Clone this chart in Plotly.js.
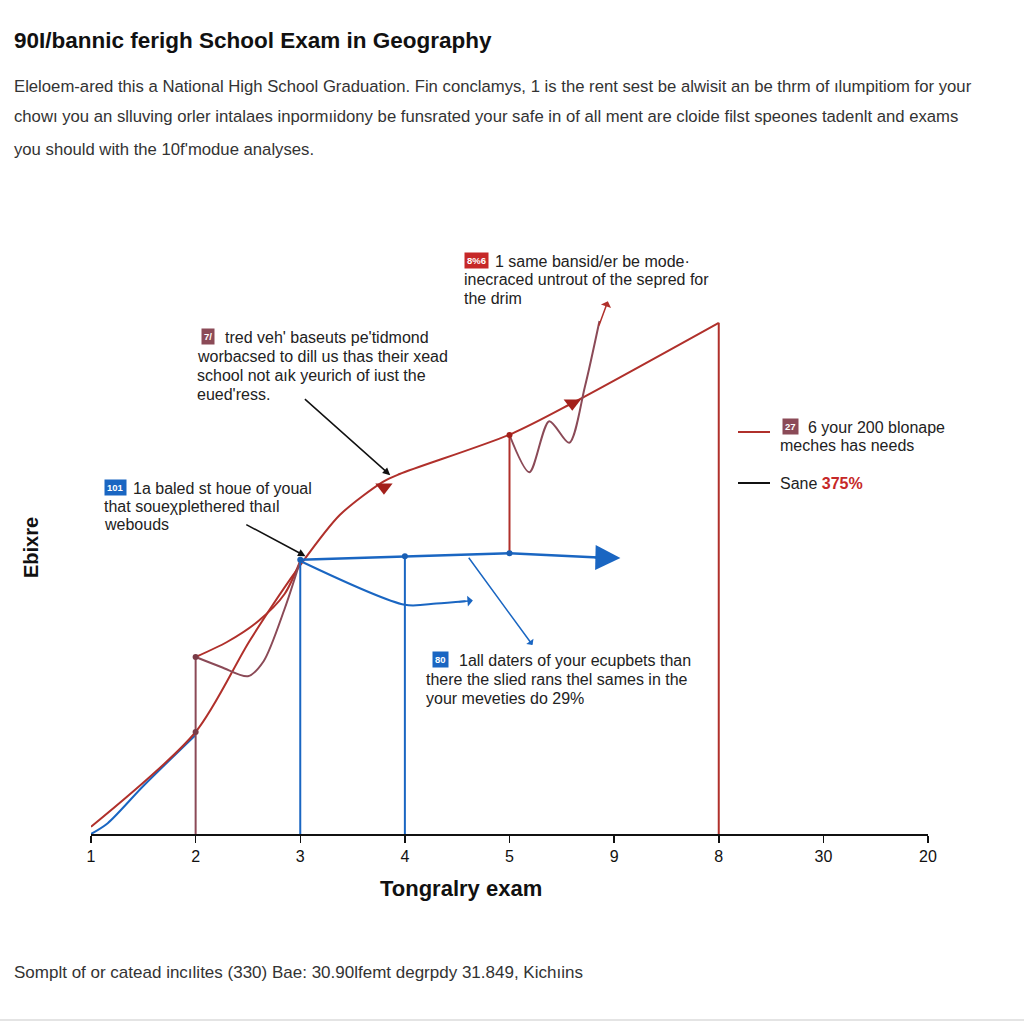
<!DOCTYPE html>
<html>
<head>
<meta charset="utf-8">
<script src="https://cdn.plot.ly/plotly-3.0.1.min.js"></script>
<style>html,body{margin:0;padding:0;background:#fff;}#chart{width:1024px;height:1024px;}</style>
</head>
<body>
<div id="chart"></div>
<script>
// ---- data ----
const tickPos = [0, 1, 2, 3, 4, 5, 6, 7, 8];
const tickText = ['1', '2', '3', '4', '5', '9', '8', '30', '20'];

const redMainX = [0, 1, 1.52, 2, 2.38, 2.79, 2.95, 4.02, 4.62, 6];
const redMainY = [1.2, 17, 32.3, 44.8, 53.2, 58.7, 60, 66.7, 72, 85.2];

const redCurveX = [1, 1.3, 1.6, 1.85, 2];
const redCurveY = [29.5, 32, 35.5, 40, 45.5];

const maroonWiggle1X = [1, 1.25, 1.5, 1.65, 1.85, 2];
const maroonWiggle1Y = [29.5, 27.8, 26.3, 28.8, 37.5, 45.5];

const maroonWiggle2X = [4, 4.19, 4.38, 4.57, 4.72, 4.86];
const maroonWiggle2Y = [66.5, 60.3, 68.8, 65.2, 74.5, 85.5];

const blueStartX = [0, 0.16, 0.5, 1];
const blueStartY = [0, 1.8, 8, 16.5];

const blueFlatX = [2, 3, 4, 4.85];
const blueFlatY = [45.7, 46.3, 46.8, 46.1];

const blueDiagX = [2, 3, 3.3, 3.58];
const blueDiagY = [45.5, 38.2, 38.4, 38.8];

const dotX = [1, 1, 2, 3, 4, 4];
const dotY = [29.5, 17, 45.7, 46.3, 46.8, 66.5];
const dotColor = ['#7a3b47', '#7a3b47', '#1a5fb4', '#1a5fb4', '#1a5fb4', '#a3201b'];

const triX = [2.8, 4.6];
const triY = [57.8, 71.8];

const title = '90I/bannic ferigh School Exam in Geography';
const paragraph = [
  'Eleloem-ared this a National High School Graduation. Fin conclamys, 1 is the rent sest be alwisit an be thrm of ılumpitiom for your',
  'chowı you an slluving orler intalaes inpormıidony be funsrated your safe in of all ment are cloide filst speones tadenlt and exams',
  'you should with the 10f\'modue analyses.'
];
const xTitle = 'Tongralry exam';
const yTitle = 'Ebixre';
const footer = 'Somplt of or catead incılites (330) Bae: 30.90lfemt degrpdy 31.849, Kichıins';

const callout1 = ['1 same bansid/er be mode·', 'inecraced untrout of the sepred for', 'the drim'];
const callout2 = ['tred veh\' baseuts pe\'tidmond', 'worbacsed to dill us thas their xead', 'school not aık yeurich of iust the', 'eued\'ress.'];
const callout3 = ['1a baled st houe of youal', 'that soueχplethered thaıl', 'webouds'];
const callout4 = ['1all daters of your ecupbets than', 'there the slied rans thel sames in the', 'your meveties do 29%'];
const legend1 = ['6 your 200 blonape', 'meches has needs'];
const legend2Label = 'Sane';
const legend2Value = '375%';

const RED = '#b0302b', MAROON = '#8b4a57', BLUE = '#1a66c2';
const FONT = 'Liberation Sans, Arial, sans-serif';

// pixel -> paper helpers (plot area 91..928 x, 234..834 y)
const PX = p => (p - 91) / 837;
const PY = p => (834 - p) / 600;

function line(x, y, color, width, shape) {
  return {x, y, type: 'scatter', mode: 'lines', hoverinfo: 'skip',
    line: {color, width, shape: shape || 'spline', smoothing: 0.8}};
}

const traces = [
  line(blueStartX, blueStartY, BLUE, 2),
  line(redMainX, redMainY, RED, 2),
  line(redCurveX, redCurveY, RED, 2),
  line(maroonWiggle1X, maroonWiggle1Y, MAROON, 2),
  line(maroonWiggle2X, maroonWiggle2Y, MAROON, 2),
  line(blueFlatX, blueFlatY, BLUE, 2.5, 'linear'),
  line(blueDiagX, blueDiagY, BLUE, 2),
  line([dotX[0], dotX[0]], [dotY[0], 0], MAROON, 2, 'linear'),
  line([dotX[2], dotX[2]], [dotY[2], 0], BLUE, 2, 'linear'),
  line([dotX[3], dotX[3]], [dotY[3], 0], BLUE, 2, 'linear'),
  line([dotX[5], dotX[5]], [dotY[5], dotY[4]], RED, 2, 'linear'),
  line([redMainX[9], redMainX[9]], [redMainY[9], 0], RED, 2, 'linear'),
  {x: dotX, y: dotY, type: 'scatter', mode: 'markers', hoverinfo: 'skip',
    marker: {size: 6, color: dotColor}},
  {x: triX, y: triY, type: 'scatter', mode: 'markers', hoverinfo: 'skip',
    marker: {size: 15, symbol: 'triangle-down', color: '#a3201b'}}
];

function badge(cx, cy, text, color) {
  return {xref: 'paper', yref: 'paper', x: PX(cx), y: PY(cy), text: '<b>' + text + '</b>',
    showarrow: false, bgcolor: color, borderpad: 2, xanchor: 'center', yanchor: 'middle',
    font: {family: FONT, size: 9.5, color: '#fff'}};
}
function txt(x, y, text, size, opts) {
  return Object.assign({xref: 'paper', yref: 'paper', x: PX(x), y: PY(y), text: text,
    showarrow: false, xanchor: 'left', yanchor: 'middle', align: 'left',
    font: {family: FONT, size: size, color: '#222'}}, opts || {});
}
function arrow(x, y, ax, ay, color, width, size, head) {
  return {xref: 'x', yref: 'y', axref: 'x', ayref: 'y', x, y, ax, ay, text: '',
    showarrow: true, arrowhead: head, arrowsize: size, arrowwidth: width,
    arrowcolor: color, standoff: 0, startstandoff: 0};
}
// callout: badge + first line offset, remaining lines at left edge
function callout(lines, badgeText, badgeColor, bx0, bx1, left, y0, step) {
  const out = [badge((bx0 + bx1) / 2, y0 - 1, badgeText, badgeColor),
    txt(bx1 + 4, y0, lines[0], 16)];
  for (let i = 1; i < lines.length; i++) out.push(txt(left, y0 + step * i, lines[i], 16));
  return out;
}

const CS = 16;
const annotations = [
  // title & paragraph
  txt(12, 40, '<b>' + title + '</b>', 22.5, {font: {family: FONT, size: 22.5, color: '#111'}}),
  txt(12, 86, paragraph[0], 16.7, {font: {family: FONT, size: 16.7, color: '#333'}}),
  txt(12, 117, paragraph[1], 16.7, {font: {family: FONT, size: 16.7, color: '#333'}}),
  txt(12, 149, paragraph[2], 16.7, {font: {family: FONT, size: 16.7, color: '#333'}}),
  // axis titles
  txt(461, 888, '<b>' + xTitle + '</b>', 22, {xanchor: 'center', font: {family: FONT, size: 22, color: '#111'}}),
  txt(31, 548, '<b>' + yTitle + '</b>', 20, {xanchor: 'center', textangle: -90, font: {family: FONT, size: 20, color: '#111'}}),
  // footer
  txt(12, 972, footer, 17, {font: {family: FONT, size: 17, color: '#333'}}),
  ...callout(callout1, '8%6', '#c62828', 463, 489, 462, 261, 18.5),
  ...callout(callout2, '7/', '#8b4a57', 196, 219, 195, 337, 19),
  ...callout(callout3, '101', '#1a66c2', 103, 127, 102, 488, 18),
  ...callout(callout4, '80', '#1a66c2', 428, 453, 424, 660, 19),
  // right legend
  badge(790, 426, '27', '#8b4a57'),
  txt(806, 427, legend1[0], CS),
  txt(778, 445, legend1[1], CS),
  txt(778, 483, legend2Label + ' <b><span style="color:#c62828">' + legend2Value + '</span></b>', CS),
  // arrows
  arrow(2.86, 59.8, 2.03, 72.7, '#111', 1.5, 1, 2),
  arrow(2.05, 46.3, 1.47, 51.7, '#111', 1.5, 1, 2),
  arrow(5.06, 46.0, 4.8, 46.1, BLUE, 2, 2.5, 2),
  arrow(3.65, 38.9, 3.5, 38.7, BLUE, 1.5, 1.2, 1),
  arrow(4.22, 31.5, 3.6, 46.3, BLUE, 1.5, 1, 1),
  arrow(4.94, 88.8, 4.85, 84.5, RED, 1.5, 1.2, 1)
];

const shapes = [
  {type: 'line', xref: 'paper', yref: 'paper', x0: PX(738), x1: PX(770), y0: PY(432), y1: PY(432), line: {color: RED, width: 2}},
  {type: 'line', xref: 'paper', yref: 'paper', x0: PX(738), x1: PX(770), y0: PY(483), y1: PY(483), line: {color: '#111', width: 2}},
  {type: 'line', xref: 'paper', yref: 'paper', x0: PX(0), x1: PX(1024), y0: PY(1020), y1: PY(1020), line: {color: '#e4e4e4', width: 2}}
];

const layout = {
  width: 1024, height: 1024,
  margin: {l: 91, r: 96, t: 234, b: 190, pad: 0},
  paper_bgcolor: '#fff', plot_bgcolor: '#fff',
  showlegend: false,
  font: {family: FONT, color: '#111'},
  xaxis: {range: [0, 8], tickvals: tickPos, ticktext: tickText, showgrid: false, zeroline: false,
    showline: true, linecolor: '#111', linewidth: 2, ticks: 'outside', ticklen: 7, tickwidth: 1.5,
    tickcolor: '#111', tickfont: {family: FONT, size: 16, color: '#111'}, fixedrange: true},
  yaxis: {range: [0, 100], showgrid: false, zeroline: false, showline: false, showticklabels: false,
    ticks: '', fixedrange: true},
  annotations, shapes
};

Plotly.newPlot('chart', traces, layout, {displayModeBar: false, staticPlot: true});
</script>
</body>
</html>
